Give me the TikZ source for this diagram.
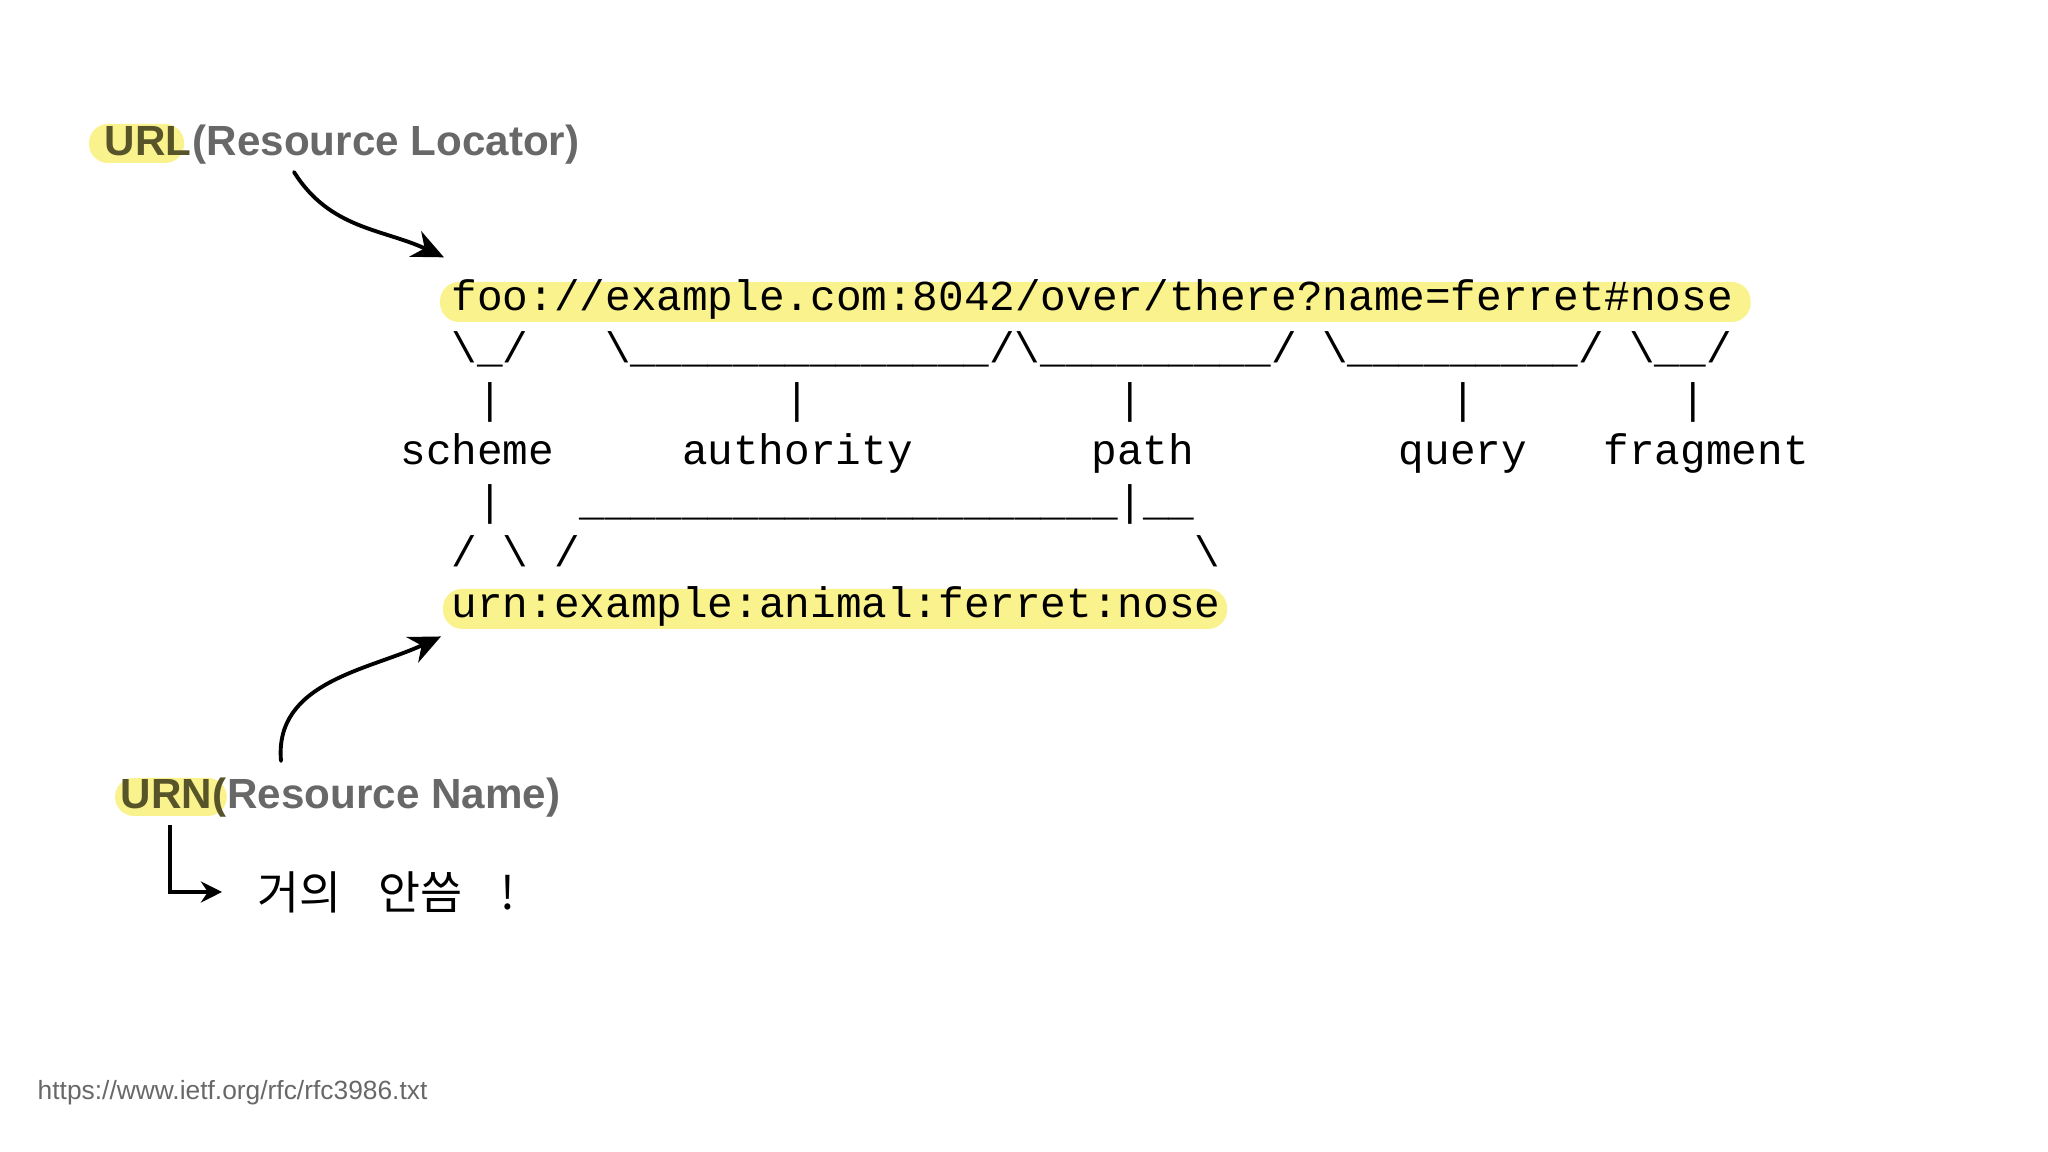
\documentclass[tikz,border=0pt]{standalone}
\usepackage{fontspec}
\setmainfont{Liberation Sans}
\newfontfamily\asciifont{Liberation Mono}
\newfontfamily\krfont{Noto Sans CJK KR}
\usetikzlibrary{arrows.meta, backgrounds}

\definecolor{marker}{RGB}{250,242,140}
\definecolor{labgray}{RGB}{104,104,104}
\definecolor{taggray}{RGB}{88,84,42}

\newcommand{\underscores}[1]{\foreach \i in {1,...,#1}{\_}}
\newcommand{\xo}{4.51}
\newcommand{\cw}{0.256}
\newcommand{\yo}{8.41}
\newcommand{\lh}{0.5115}

\begin{document}
\begin{tikzpicture}[
  ascii/.style = {font=\asciifont\fontsize{12.15pt}{14pt}\selectfont,
                  anchor=base west, inner sep=0pt},
  tag/.style   = {font=\fontsize{12pt}{14pt}\selectfont\bfseries,
                  text=taggray, anchor=base west, inner sep=0pt},
  lab/.style   = {font=\fontsize{12pt}{14pt}\selectfont\bfseries,
                  text=labgray, anchor=base west, inner sep=0pt},
  hl/.style    = {fill=marker, rounded corners=0.19cm},
  hand/.style  = {line width=1.1pt, line cap=round,
                  -{Stealth[length=9pt, width=8pt]}},
]
\useasboundingbox (0,0) rectangle (20.48,11.52);

%% ── URI line ─────────────────────────────────────────────────────────────
\node[ascii] (url) at (\xo, \yo) {foo://example.com:8042/over/there?name=ferret\#nose};

%% ── Brackets under the parts ─────────────────────────────────────────────
\node[ascii] (schemebr) at (\xo, {\yo-\lh}) {\textbackslash\_/};
\node[ascii] (authbr)   at ({\xo+6*\cw}, {\yo-\lh}) {\textbackslash\underscores{14}/};
\node[ascii] (pathbr)   at ({\xo+22*\cw}, {\yo-\lh}) {\textbackslash\underscores{9}/};
\node[ascii] (querybr)  at ({\xo+34*\cw}, {\yo-\lh}) {\textbackslash\underscores{9}/};
\node[ascii] (fragbr)   at ({\xo+46*\cw}, {\yo-\lh}) {\textbackslash\_\_/};

\foreach \c/\n in {1/schemebar, 13/authbar, 26/pathbar, 39/querybar, 48/fragbar}
  \node[ascii] (\n) at ({\xo+\c*\cw}, {\yo-2*\lh}) {|};

%% ── Part names ───────────────────────────────────────────────────────────
\foreach \c/\n in {-2/scheme, 9/authority, 25/path, 37/query, 45/fragment}
  \node[ascii] (\n) at ({\xo+\c*\cw}, {\yo-3*\lh}) {\n};

%% ── Down to the URN ──────────────────────────────────────────────────────
\node[ascii] (urnbar)  at ({\xo+\cw}, {\yo-4*\lh}) {|};
\node[ascii] (urnjoin) at ({\xo+5*\cw}, {\yo-4*\lh}) {\underscores{21}|\_\_};
\node[ascii] (urnsl)   at (\xo, {\yo-5*\lh}) {/};
\node[ascii] (urnbs)   at ({\xo+2*\cw}, {\yo-5*\lh}) {\textbackslash};
\node[ascii] (urnsr)   at ({\xo+4*\cw}, {\yo-5*\lh}) {/};
\node[ascii] (urnbe)   at ({\xo+29*\cw}, {\yo-5*\lh}) {\textbackslash};

\node[ascii] (urn) at (\xo, {\yo-6*\lh}) {urn:example:animal:ferret:nose};

%% ── Labels ───────────────────────────────────────────────────────────────
\node[tag] (urltag) at (1.04, 9.96) {URL};
\node[lab] (urllab) at (urltag.base east) {(Resource Locator)};

\node[tag] (urntag) at (1.20, 3.43) {URN(};
\node[lab] (urnlab) at (urntag.base east) {Resource Name)};

\node[font=\krfont\fontsize{13pt}{15pt}\selectfont, anchor=west, inner sep=0pt]
  (rare) at (2.57, 2.60) {거의\hspace{0.37cm}안씀\hspace{0.38cm}!};

\node[font=\fontsize{7.5pt}{9pt}\selectfont, text=labgray,
      anchor=base west, inner sep=0pt]
  (src) at (0.37, 0.52) {https://www.ietf.org/rfc/rfc3986.txt};

%% ── Marker highlights ────────────────────────────────────────────────────
\begin{scope}[on background layer]
  \fill[hl] ([xshift=-0.11cm, yshift=-0.11cm]url.base west)
     rectangle ([xshift=0.17cm, yshift=0.29cm]url.base east);
  \fill[hl] ([xshift=-0.08cm, yshift=-0.11cm]urn.base west)
     rectangle ([xshift=0.06cm, yshift=0.29cm]urn.base east);
  \fill[hl] ([xshift=-0.15cm, yshift=-0.07cm]urltag.base west)
     rectangle ([xshift=-0.08cm, yshift=0.32cm]urltag.base east);
  \fill[hl] ([xshift=-0.05cm, yshift=-0.07cm]urntag.base west)
     rectangle ([xshift=0.0cm, yshift=0.31cm]urntag.base east);
\end{scope}

%% ── Hand-drawn arrows ────────────────────────────────────────────────────
\coordinate (urlfrom) at (2.94, 9.80);
\coordinate (urnfrom) at (2.81, 3.91);
\draw[hand] (urlfrom) to[out=-58, in=155]
  ([xshift=-0.07cm, yshift=0.22cm]url.north west);
\draw[hand] (urnfrom) to[out=95, in=205]
  ([xshift=-0.10cm, yshift=-0.09cm]urn.south west);

\draw[line width=1pt, -{Stealth[length=6pt, width=6pt]}]
  ([xshift=0.50cm, yshift=-0.07cm]urntag.south west)
  |- ([xshift=-0.35cm]rare.west);

\end{tikzpicture}
\end{document}
